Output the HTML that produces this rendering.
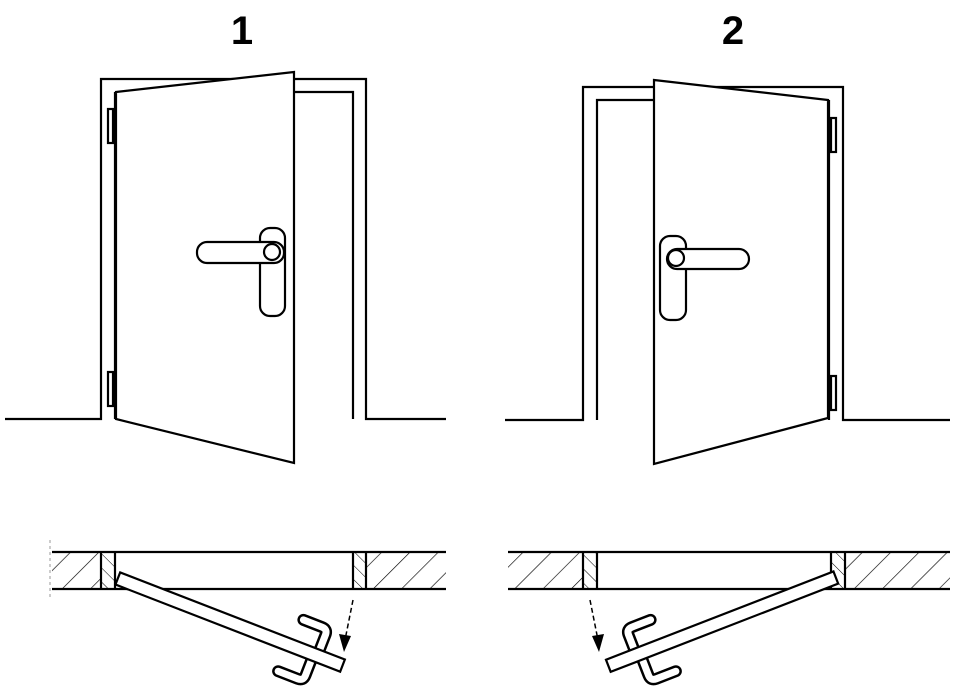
<!DOCTYPE html>
<html><head><style>body{margin:0;background:#fff}svg{display:block}</style></head><body>
<svg width="960" height="690" viewBox="0 0 960 690" xmlns="http://www.w3.org/2000/svg" fill="none" stroke="#000" stroke-width="2.2">
<defs>
<pattern id="h" patternUnits="userSpaceOnUse" width="20" height="20" patternTransform="rotate(45)">
<line x1="0" y1="0" x2="0" y2="20" stroke="#000" stroke-width="1.3"/>
</pattern>
<pattern id="h2" patternUnits="userSpaceOnUse" width="10" height="10" patternTransform="rotate(-45)">
<line x1="0" y1="0" x2="0" y2="10" stroke="#000" stroke-width="1"/>
</pattern>
<g id="hooks">
<path d="M214 -5 V-22 Q214 -28 208 -28 H188" stroke="#000" stroke-width="12" stroke-linecap="round" stroke-linejoin="round"/>
<path d="M214 -5 V-22 Q214 -28 208 -28 H188" stroke="#fff" stroke-width="7" stroke-linecap="round" stroke-linejoin="round"/>
<path d="M210 6 V23 Q210 29 204 29 H183" stroke="#000" stroke-width="12" stroke-linecap="round" stroke-linejoin="round"/>
<path d="M210 6 V23 Q210 29 204 29 H183" stroke="#fff" stroke-width="7" stroke-linecap="round" stroke-linejoin="round"/>
</g>
</defs>
<text x="242" y="44" font-family="Liberation Sans, sans-serif" font-weight="bold" font-size="40" text-anchor="middle" fill="#000" stroke="none">1</text>
<text x="733" y="44" font-family="Liberation Sans, sans-serif" font-weight="bold" font-size="40" text-anchor="middle" fill="#000" stroke="none">2</text>

<!-- Door 1 -->
<path d="M5 419 H101 V79 H366 V419 H446"/>
<path d="M115 419 V92 M294 92 H353 V419"/>
<polygon points="116,92 294,72 294,463 116,419" fill="#fff"/>
<rect x="108" y="109" width="5" height="34"/>
<rect x="108" y="372" width="5" height="34"/>
<rect x="260" y="228" width="25" height="88" rx="10"/>
<rect x="197" y="242" width="87" height="21" rx="10" fill="#fff"/>
<circle cx="272" cy="252" r="8"/>

<!-- Door 2 -->
<path d="M505 420 H583 V87 H843 V420 H950"/>
<path d="M597 420 V100 H654 M829 100 V420"/>
<polygon points="654,80 828,100 828,418 654,464" fill="#fff"/>
<rect x="831" y="118" width="5" height="34"/>
<rect x="831" y="376" width="5" height="34"/>
<rect x="660" y="236" width="26" height="84" rx="10"/>
<rect x="667" y="249" width="82" height="20" rx="10" fill="#fff"/>
<circle cx="676" cy="258" r="8"/>

<!-- Section 1 -->
<rect x="52" y="552" width="49" height="37" fill="url(#h)" stroke="none"/>
<rect x="366" y="552" width="80" height="37" fill="url(#h)" stroke="none"/>
<rect x="101" y="552" width="14" height="37" fill="url(#h2)" stroke="none"/>
<rect x="353" y="552" width="13" height="37" fill="url(#h2)" stroke="none"/>
<path d="M52 552 H446 M52 589 H446 M101 552 V589 M115 552 V589 M353 552 V589 M366 552 V589"/>
<path d="M50 540 V600" stroke="#999" stroke-width="1" stroke-dasharray="3 3"/>
<g transform="translate(118,578) rotate(21.2)">
<use href="#hooks"/>
<rect x="0" y="-6" width="241" height="13" fill="#fff"/>
</g>
<path d="M353 600 L345 640" stroke-width="1.5" stroke-dasharray="5 3"/>
<path d="M339 634 L344 652 L351 636 Z" fill="#000" stroke="none"/>

<!-- Section 2 -->
<rect x="508" y="552" width="75" height="37" fill="url(#h)" stroke="none"/>
<rect x="845" y="552" width="105" height="37" fill="url(#h)" stroke="none"/>
<rect x="583" y="552" width="14" height="37" fill="url(#h2)" stroke="none"/>
<rect x="831" y="552" width="14" height="37" fill="url(#h2)" stroke="none"/>
<path d="M508 552 H950 M508 589 H950 M583 552 V589 M597 552 V589 M831 552 V589 M845 552 V589"/>
<g transform="translate(836,578) rotate(158.8)">
<use href="#hooks" transform="scale(1,-1)"/>
<rect x="0" y="-6" width="244" height="13" fill="#fff"/>
</g>
<path d="M590 600 L598 640" stroke-width="1.5" stroke-dasharray="5 3"/>
<path d="M592 636 L599 652 L604 634 Z" fill="#000" stroke="none"/>
</svg>
</body></html>
